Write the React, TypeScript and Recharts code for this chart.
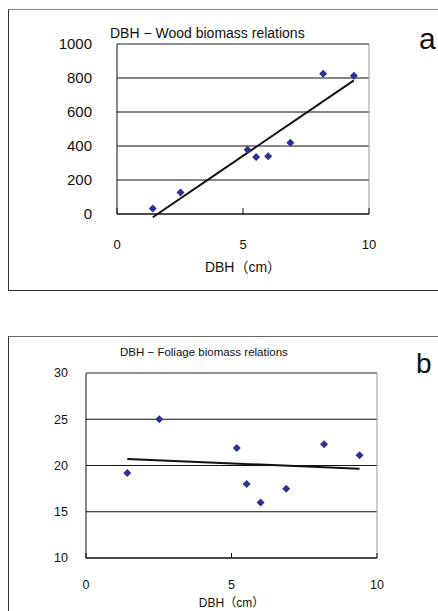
import React from 'react';
import { ScatterChart, Scatter, XAxis, YAxis, CartesianGrid, ReferenceLine } from 'recharts';

// DBH (cm) of the sampled trees
const dbh = [1.42, 2.52, 5.18, 5.52, 6.0, 6.88, 8.18, 9.4];
const woodBiomass = [33, 127, 378, 335, 339, 419, 825, 813];
const foliageBiomass = [19.2, 25.0, 21.9, 18.0, 16.0, 17.5, 22.3, 21.1];

// fitted lines (end points)
const woodTrend = [{ x: 1.42, y: -19 }, { x: 9.4, y: 786 }];
const foliageTrend = [{ x: 1.42, y: 20.7 }, { x: 9.4, y: 19.65 }];

const xTicks = [0, 5, 10];
const woodTicks = [0, 200, 400, 600, 800, 1000];
const foliageTicks = [10, 15, 20, 25, 30];

const woodData = dbh.map((x, i) => ({ x, y: woodBiomass[i] }));
const foliageData = dbh.map((x, i) => ({ x, y: foliageBiomass[i] }));

const FONT = '"Liberation Sans", "Noto Sans CJK JP", Arial, sans-serif';
const INK = '#111';
const MARKER = '#2E3192';

const Diamond = (props: any) => {
    const { cx, cy } = props;
    if (cx == null || cy == null) return null;
    return <path d={`M${cx},${cy - 4}L${cx + 4},${cy}L${cx},${cy + 4}L${cx - 4},${cy}Z`} fill={MARKER} />;
};

const abs = (left: number, top: number): React.CSSProperties => ({ position: 'absolute', left, top });

export default function App() {
    return (
        <div style={{ position: 'absolute', left: 0, top: 0, width: 438, height: 611, overflow: 'hidden', background: '#fff', fontFamily: FONT }}>
            {/* panel frames */}
            <div style={{ ...abs(8, 9), width: 440, height: 280, borderLeft: '1px solid #333', borderTop: '1px solid #888', borderBottom: '1px solid #333' }} />
            <div style={{ ...abs(8, 336), width: 440, height: 300, borderLeft: '1px solid #333', borderTop: '1px solid #666' }} />

            {/* panel a */}
            <div style={abs(0, 0)}>
                <ScatterChart width={438} height={300} margin={{ top: 44, right: 69, bottom: 0, left: 0 }} style={{ fontFamily: FONT }}>
                    <CartesianGrid vertical={false} stroke={INK} />
                    <XAxis
                        type="number"
                        dataKey="x"
                        domain={[0, 10]}
                        ticks={xTicks}
                        height={86}
                        tickSize={-6}
                        tickMargin={32}
                        stroke={INK}
                        tick={{ fill: INK, fontSize: 13 }}
                        label={{ value: 'DBH（cm）', position: 'insideTop', offset: 48, fill: INK, fontSize: 14 }}
                    />
                    <YAxis
                        type="number"
                        dataKey="y"
                        domain={[0, 1000]}
                        ticks={woodTicks}
                        width={117}
                        tickLine={false}
                        tickSize={0}
                        tickMargin={25}
                        stroke={INK}
                        tick={{ fill: INK, fontSize: 15 }}
                    />
                    <ReferenceLine y={1000} stroke="#999" />
                    <ReferenceLine x={10} stroke="#999" />
                    <ReferenceLine segment={woodTrend} ifOverflow="visible" stroke={INK} strokeWidth={2} />
                    <Scatter data={woodData} shape={Diamond} isAnimationActive={false} />
                </ScatterChart>
            </div>

            {/* panel b */}
            <div style={abs(0, 300)}>
                <ScatterChart width={438} height={311} margin={{ top: 73, right: 61, bottom: 0, left: 0 }} style={{ fontFamily: FONT }}>
                    <CartesianGrid vertical={false} stroke={INK} />
                    <XAxis
                        type="number"
                        dataKey="x"
                        domain={[0, 10]}
                        ticks={xTicks}
                        height={53}
                        tickSize={-5}
                        tickMargin={27}
                        stroke={INK}
                        tick={{ fill: INK, fontSize: 12.5 }}
                        label={{ value: 'DBH（cm）', position: 'insideTop', offset: 40, fill: INK, fontSize: 12 }}
                    />
                    <YAxis
                        type="number"
                        dataKey="y"
                        domain={[10, 30]}
                        ticks={foliageTicks}
                        width={86}
                        tickLine={false}
                        tickSize={0}
                        tickMargin={18}
                        stroke={INK}
                        tick={{ fill: INK, fontSize: 12.5 }}
                    />
                    <ReferenceLine y={30} stroke="#999" />
                    <ReferenceLine x={10} stroke="#999" />
                    <ReferenceLine segment={foliageTrend} ifOverflow="visible" stroke={INK} strokeWidth={2} />
                    <Scatter data={foliageData} shape={Diamond} isAnimationActive={false} />
                </ScatterChart>
            </div>

            {/* titles and panel letters */}
            <div style={{ ...abs(110, 26), fontSize: 14, lineHeight: '14px', color: INK, whiteSpace: 'nowrap' }}>DBH − Wood biomass relations</div>
            <div style={{ ...abs(120, 346), fontSize: 11.5, lineHeight: '12px', color: INK, whiteSpace: 'nowrap' }}>DBH − Foliage biomass relations</div>
            <div style={{ ...abs(419, 24), fontSize: 30, lineHeight: '30px', color: INK }}>a</div>
            <div style={{ ...abs(416, 350), fontSize: 28, lineHeight: '28px', color: INK }}>b</div>
        </div>
    );
}
